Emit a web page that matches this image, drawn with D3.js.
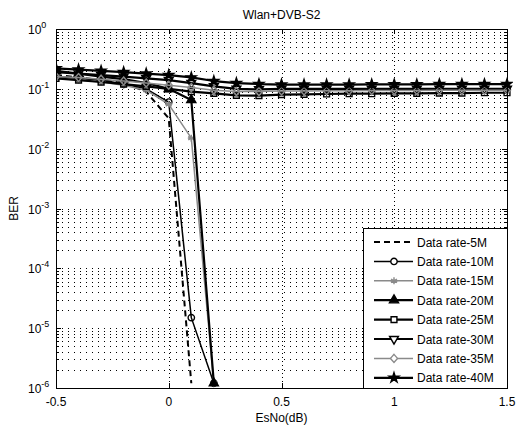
<!DOCTYPE html>
<html><head><meta charset="utf-8">
<script src="https://cdn.jsdelivr.net/npm/d3@7"></script>
<style>body{margin:0;background:#fff}text{font-family:"Liberation Sans",Arial,sans-serif}</style>
</head><body><svg id="c" width="516" height="428"></svg>
<script>
const esno = [-0.5,-0.4,-0.3,-0.2,-0.1,0,0.1,0.2,0.3,0.4,0.5,0.6,0.7,0.8,0.9,1.0,1.1,1.2,1.3,1.4,1.5];
const ber5M  = [0.17,0.155,0.14,0.125,0.09,0.032,1.2e-6];
const ber10M = [0.16,0.15,0.14,0.12,0.1,0.06,1.5e-5,1.2e-6];
const ber15M = [0.15,0.14,0.13,0.115,0.095,0.055,0.015,1.2e-6];
const ber20M = [0.2,0.18,0.16,0.145,0.125,0.1,0.065,1.2e-6];
const ber25M = [0.15,0.14,0.13,0.12,0.11,0.1,0.09,0.084,0.078,0.077,0.08,0.081,0.082,0.083,0.083,0.084,0.084,0.085,0.085,0.086,0.086];
const ber30M = [0.19,0.18,0.17,0.16,0.15,0.14,0.125,0.11,0.1,0.098,0.1,0.1,0.1,0.1,0.1,0.1,0.1,0.1,0.1,0.1,0.1];
const ber35M = [0.16,0.155,0.145,0.135,0.125,0.115,0.105,0.095,0.09,0.09,0.092,0.092,0.093,0.093,0.094,0.094,0.094,0.095,0.095,0.095,0.095];
const ber40M = [0.22,0.21,0.2,0.19,0.18,0.17,0.155,0.135,0.125,0.12,0.118,0.118,0.118,0.118,0.119,0.119,0.119,0.12,0.12,0.12,0.12];
const seriesNames = ["Data rate-5M","Data rate-10M","Data rate-15M","Data rate-20M","Data rate-25M","Data rate-30M","Data rate-35M","Data rate-40M"];
const xTicks = [-0.5,0,0.5,1,1.5];
const xTickLabels = ["-0.5","0","0.5","1","1.5"];
const yExps = [0,-1,-2,-3,-4,-5,-6];

const allSeries = [ber5M,ber10M,ber15M,ber20M,ber25M,ber30M,ber35M,ber40M];
const styles = [
  {color:"#000", w:2, dash:"6,4", marker:null},
  {color:"#000", w:1.5, marker:"circle", fill:"none"},
  {color:"#8a8a8a", w:1.5, marker:"asterisk", fill:"none"},
  {color:"#000", w:2.2, marker:"triangle", fill:"#000"},
  {color:"#000", w:2.2, marker:"square", fill:"none"},
  {color:"#000", w:2.2, marker:"tridown", fill:"none"},
  {color:"#8a8a8a", w:1.5, marker:"diamond", fill:"none"},
  {color:"#000", w:2.2, marker:"star", fill:"#000"}
];

const svg = d3.select("#c");
const L=56, R=507, T=29, B=388;
const x = d3.scaleLinear().domain([-0.5,1.5]).range([L,R]);
const y = d3.scaleLog().domain([1e-6,1]).range([B,T]);

svg.append("defs").append("clipPath").attr("id","clip").append("rect")
  .attr("x",L).attr("y",T-6).attr("width",R-L+6).attr("height",B-T+12);

// grid
const grid = svg.append("g").attr("stroke","#000").attr("stroke-width",1).attr("stroke-dasharray","1,5");
xTicks.forEach(t=>{ if(t>-0.5 && t<1.5) grid.append("line").attr("x1",Math.round(x(t))+0.5).attr("x2",Math.round(x(t))+0.5).attr("y1",T).attr("y2",B).attr("stroke-dasharray","1,3");});
const minorY=[];
yExps.forEach(e=>{ if(e<0) for(let k=2;k<=9;k++) minorY.push(k*Math.pow(10,e)); });
yExps.forEach(e=>{ const v=Math.pow(10,e); if(e<0&&e>-6) grid.append("line").attr("x1",L).attr("x2",R).attr("y1",Math.round(y(v))+0.5).attr("y2",Math.round(y(v))+0.5);});
minorY.forEach(v=>grid.append("line").attr("x1",L).attr("x2",R).attr("y1",Math.round(y(v))+0.5).attr("y2",Math.round(y(v))+0.5));

// ticks
const tk = svg.append("g").attr("stroke","#000").attr("stroke-width",1);
xTicks.forEach(t=>{const px=Math.round(x(t))+0.5; tk.append("line").attr("x1",px).attr("x2",px).attr("y1",B).attr("y2",B-5); tk.append("line").attr("x1",px).attr("x2",px).attr("y1",T).attr("y2",T+5);});
yExps.forEach(e=>{const py=Math.round(y(Math.pow(10,e)))+0.5; tk.append("line").attr("x1",L).attr("x2",L+5).attr("y1",py).attr("y2",py); tk.append("line").attr("x1",R).attr("x2",R-5).attr("y1",py).attr("y2",py);});
minorY.forEach(v=>{const py=Math.round(y(v))+0.5; tk.append("line").attr("x1",L).attr("x2",L+3).attr("y1",py).attr("y2",py); tk.append("line").attr("x1",R).attr("x2",R-3).attr("y1",py).attr("y2",py);});

// marker generator
function markerPath(type){
  switch(type){
    case "circle": return d3.symbol(d3.symbolCircle,32)();
    case "square": return d3.symbol(d3.symbolSquare,34)();
    case "triangle": return d3.symbol(d3.symbolTriangle,36)();
    case "tridown": return d3.symbol(d3.symbolTriangle,34)();
    case "diamond": return "M0,-4L3.5,0L0,4L-3.5,0Z";
    case "asterisk": return "M0,-3.5V3.5M-3,-1.8L3,1.8M-3,1.8L3,-1.8M-3.5,0H3.5";
    case "star": return d3.symbol(d3.symbolStar,30)();
  }
}

const plot = svg.append("g").attr("clip-path","url(#clip)");
allSeries.forEach((s,i)=>{
  const st=styles[i];
  const pts = s.map((v,j)=>[esno[j],v]);
  const line = d3.line().x(d=>x(d[0])).y(d=>y(d[1]));
  plot.append("path").attr("d",line(pts)).attr("fill","none").attr("stroke",st.color)
    .attr("stroke-width",st.w).attr("stroke-dasharray",st.dash||null).attr("stroke-linejoin","round");
  if(st.marker){
    plot.selectAll(null).data(pts).enter().append("path").attr("d",markerPath(st.marker))
      .attr("transform",d=>`translate(${x(d[0])},${y(d[1])})${st.marker==="tridown"?" rotate(180)":""}`)
      .attr("fill",st.fill==="none"?"none":st.fill).attr("stroke",st.color).attr("stroke-width",1.4);
  }
});

// box
svg.append("rect").attr("x",L+0.5).attr("y",T+0.5).attr("width",R-L).attr("height",B-T).attr("fill","none").attr("stroke","#000").attr("stroke-width",1);

// tick labels
xTicks.forEach((t,i)=>svg.append("text").attr("x",x(t)).attr("y",406).attr("text-anchor","middle").attr("font-size",12).text(xTickLabels[i]));
yExps.forEach(e=>{
  const t=svg.append("text").attr("x",28).attr("y",y(Math.pow(10,e))+5).attr("font-size",12);
  t.append("tspan").text("10");
  t.append("tspan").attr("dy",-6).attr("font-size",9).text(String(e));
});
svg.append("text").attr("x",x(0.5)).attr("y",422).attr("text-anchor","middle").attr("font-size",12).text("EsNo(dB)");
svg.append("text").attr("transform",`translate(18,${(T+B)/2}) rotate(-90)`).attr("text-anchor","middle").attr("font-size",12).text("BER");
svg.append("text").attr("x",x(0.5)).attr("y",19).attr("text-anchor","middle").attr("font-size",12).text("Wlan+DVB-S2");

// legend
const lg = svg.append("g");
lg.append("rect").attr("x",363.5).attr("y",228.5).attr("width",R-363).attr("height",B-228).attr("fill","#fff").attr("stroke","#000");
seriesNames.forEach((n,i)=>{
  const st=styles[i], cy=242+i*19.4;
  lg.append("line").attr("x1",374).attr("x2",413).attr("y1",cy).attr("y2",cy).attr("stroke",st.color).attr("stroke-width",st.w).attr("stroke-dasharray",st.dash||null);
  if(st.marker) lg.append("path").attr("d",markerPath(st.marker)).attr("transform",`translate(394,${cy})${st.marker==="tridown"?" rotate(180)":""}`)
     .attr("fill",st.fill==="none"?"#fff":st.fill).attr("stroke",st.color).attr("stroke-width",1.4);
  lg.append("text").attr("x",417).attr("y",cy+4.5).attr("font-size",12).text(n);
});
</script></body></html>
